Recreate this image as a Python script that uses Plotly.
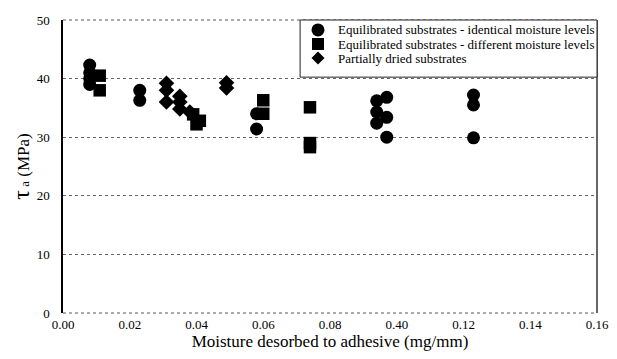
import plotly.graph_objects as go

# Equilibrated substrates - identical moisture levels (circles)
ident_x = [0.008, 0.008, 0.008, 0.008, 0.023, 0.023, 0.058, 0.058,
           0.094, 0.094, 0.094, 0.097, 0.097, 0.097, 0.123, 0.123, 0.123]
ident_y = [42.3, 41.0, 40.0, 39.0, 38.0, 36.3, 34.0, 31.4,
           36.2, 34.3, 32.4, 36.8, 33.4, 30.0, 37.2, 35.5, 29.9]

# Equilibrated substrates - different moisture levels (squares)
diff_x = [0.011, 0.011, 0.039, 0.041, 0.040, 0.060, 0.060, 0.074, 0.074, 0.074]
diff_y = [40.5, 38.0, 33.9, 32.8, 32.2, 36.3, 34.0, 35.1, 29.0, 28.3]

# Partially dried substrates (diamonds)
dried_x = [0.031, 0.031, 0.031, 0.035, 0.035, 0.035, 0.038, 0.049, 0.049]
dried_y = [39.2, 38.0, 36.0, 37.0, 36.0, 34.8, 34.3, 39.3, 38.4]

series_names = ["Equilibrated substrates - identical moisture levels",
                "Equilibrated substrates - different moisture levels",
                "Partially dried substrates"]

x_tickvals = [0.00, 0.02, 0.04, 0.06, 0.08, 0.10, 0.12, 0.14, 0.16]
x_ticktext = ["0.00", "0.02", "0.04", "0.06", "0.08", "0.40", "0.12", "0.14", "0.16"]
y_tickvals = [0, 10, 20, 30, 40, 50]

serif = "Liberation Serif"

fig = go.Figure()
fig.add_trace(go.Scatter(x=ident_x, y=ident_y, mode="markers", name=series_names[0],
                         marker=dict(symbol="circle", size=13, color="black")))
fig.add_trace(go.Scatter(x=diff_x, y=diff_y, mode="markers", name=series_names[1],
                         marker=dict(symbol="square", size=12.5, color="black")))
fig.add_trace(go.Scatter(x=dried_x, y=dried_y, mode="markers", name=series_names[2],
                         marker=dict(symbol="diamond", size=12, color="black")))

# page body has an 8px margin, so the figure is sized/offset to compensate
fig.update_layout(
    width=609, height=351,
    margin=dict(l=55, r=20, t=12, b=46),
    paper_bgcolor="white", plot_bgcolor="white",
    font=dict(family=serif, color="black", size=13),
    showlegend=False,
    xaxis=dict(range=[0, 0.16], tickvals=x_tickvals, ticktext=x_ticktext,
               showgrid=False, zeroline=False, automargin=False,
               showline=False,
               ticks="", ticklabelstandoff=2,
               tickfont=dict(family=serif, size=13, color="black"),
               title=dict(text="Moisture desorbed to adhesive (mg/mm)",
                          font=dict(family=serif, size=17, color="black"), standoff=0)),
    yaxis=dict(range=[0, 50], tickvals=y_tickvals,
               showgrid=True, gridcolor="#666", griddash="dot", gridwidth=1,
               zeroline=False, automargin=False,
               showline=True, linecolor="black", linewidth=1.5, mirror=False,
               ticks="", ticklabelstandoff=9,
               tickfont=dict(family=serif, size=13, color="black"),
               title=dict(text="<span style='font-size:24px'>τ</span><span style='font-size:13px'> a</span> (MPa)",
                          font=dict(family=serif, size=17, color="black"), standoff=12)),
)

# right border and dotted top/bottom borders
fig.add_shape(type="line", xref="paper", yref="paper", x0=1, x1=1, y0=0, y1=1,
              line=dict(color="black", width=1.2))
fig.add_shape(type="line", xref="paper", yref="paper", x0=0, x1=1, y0=1, y1=1,
              line=dict(color="#555", width=1, dash="dot"))
fig.add_shape(type="line", xref="paper", yref="paper", x0=0, x1=1, y0=0, y1=0,
              line=dict(color="#555", width=1, dash="dot"))

# compact legend box (drawn in paper space, like the original figure's key)
fig.add_shape(type="rect", xref="paper", yref="paper", x0=0.444, x1=1.0, y0=0.805, y1=1.0,
              line=dict(color="#222", width=1), fillcolor="white", layer="above")
key_x = 0.4775
text_x = 0.511
row_y = [0.966, 0.918, 0.870]
fig.add_shape(type="circle", xref="paper", yref="paper", xsizemode="pixel", ysizemode="pixel",
              xanchor=key_x, yanchor=row_y[0], x0=-6.5, x1=6.5, y0=-6.5, y1=6.5,
              fillcolor="black", line=dict(width=0), layer="above")
fig.add_shape(type="rect", xref="paper", yref="paper", xsizemode="pixel", ysizemode="pixel",
              xanchor=key_x, yanchor=row_y[1], x0=-6, x1=6, y0=-6, y1=6,
              fillcolor="black", line=dict(width=0), layer="above")
fig.add_shape(type="path", xref="paper", yref="paper", xsizemode="pixel", ysizemode="pixel",
              xanchor=key_x, yanchor=row_y[2], path="M -6.5 0 L 0 6.5 L 6.5 0 L 0 -6.5 Z",
              fillcolor="black", line=dict(width=0), layer="above")
for name, ry in zip(series_names, row_y):
    fig.add_annotation(xref="paper", yref="paper", x=text_x, y=ry, text=name,
                       showarrow=False, xanchor="left", yanchor="middle",
                       font=dict(family=serif, size=13, color="black"))

fig.write_html("out.html")
